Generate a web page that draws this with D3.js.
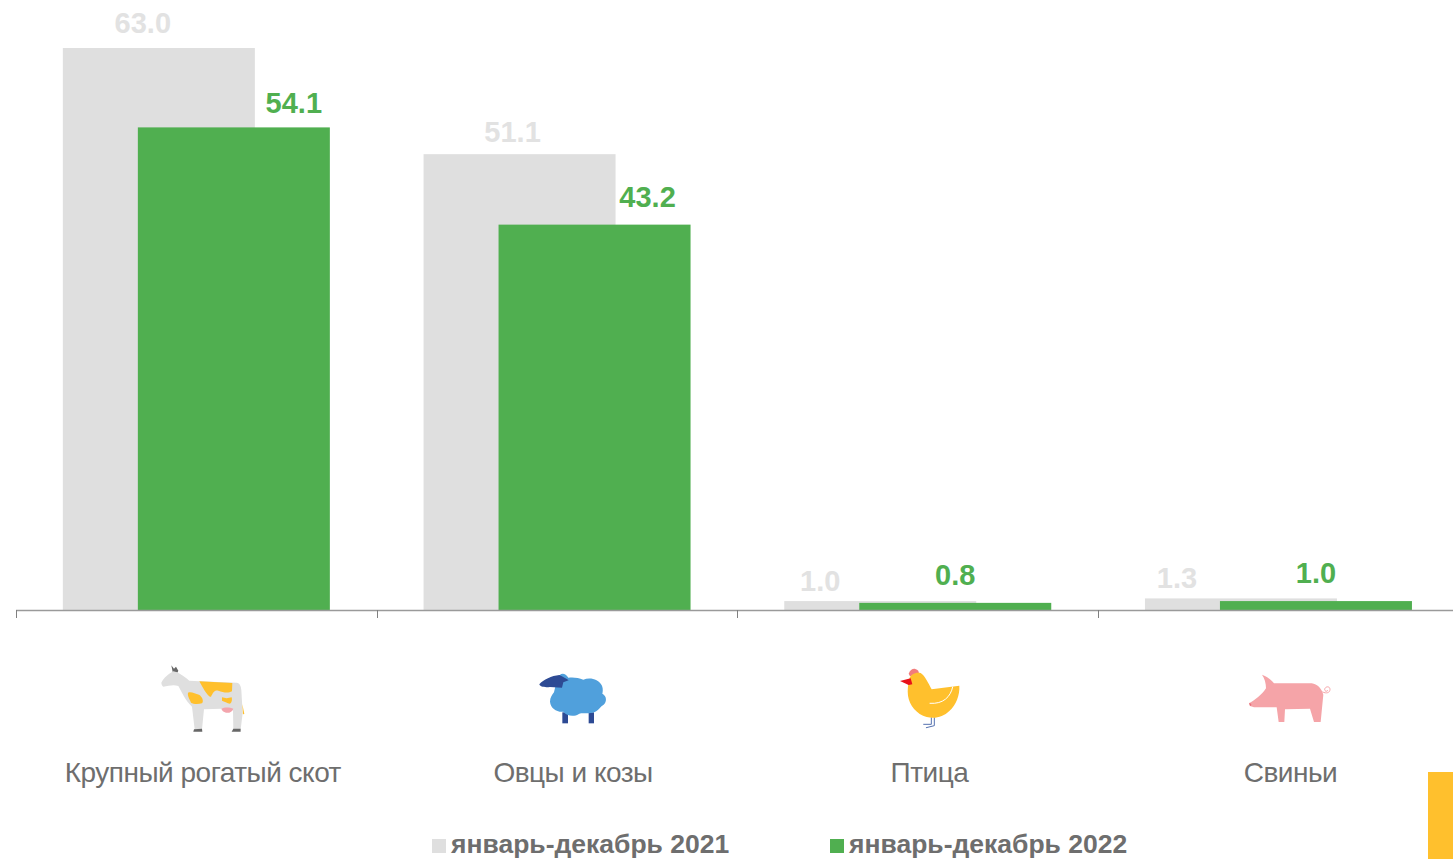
<!DOCTYPE html>
<html>
<head>
<meta charset="utf-8">
<script src="https://cdn.jsdelivr.net/npm/d3@7"></script>
<style>
    html, body { margin: 0; padding: 0; background: #fff; overflow: hidden; }
    text { font-family: "Liberation Sans", Arial, sans-serif; }
</style>
</head>
<body>
<div id="graph"></div>
<script>
'use strict';

const categories = ['Крупный рогатый скот', 'Овцы и козы', 'Птица', 'Свиньи'];
const seriesNames = ['январь-декабрь 2021', 'январь-декабрь 2022'];
const values2021 = [63.0, 51.1, 1.0, 1.3];
const values2022 = [54.1, 43.2, 0.8, 1.0];
const seriesValues = [values2021, values2022];
const seriesColors = ['#dfdfdf', '#50af50'];
const labelColors = ['#e2e2e2', '#50af50'];

const measurements = {
    width: 1453,
    height: 859,
    left: 16,
    right: 1458.8,
    baseline: 610,
    barWidth: 192,
    barShift: 37.5
};

// the value labels were placed by hand in the original: [dx from bar center, gap over bar]
const labelNudge = [
    [[-16, 15], [-7, 12], [-60, 10], [-64, 10]],
    [[60, 14], [53, 18], [0, 18], [0, 18]]
];
const categoryNudge = [6.5, 16, 11.7, 12];

const icons = [
    {
        origin: [130, 650],
        parts: [
            { fill: '#676767', d: 'M124 46L132 56L138 50L145 62L142 68L128 66Z' },
            { fill: '#dfdfdf', d: 'M94 98C100 85 118 70 130 64C145 66 160 78 178 92L208 94L320 98C330 100 333 108 334 120L338 190L332 238L310 238L309 180L275 176L222 178L216 238L194 238L186 170C165 150 155 125 145 108C130 102 115 108 100 110C96 108 94 102 94 98Z' },
            { fill: '#ffc02d', d: 'M208 94L307 99L306 124C295 130 280 128 265 122C252 120 250 128 243 140C235 142 225 125 208 94Z' },
            { fill: '#ffc02d', d: 'M174 128C185 124 195 132 207 134C217 140 222 154 216 160C205 163 190 163 183 158C180 148 172 140 174 128Z' },
            { fill: '#ffc02d', d: 'M276 142L290 145L305 142C307 148 306 158 300 161C292 160 282 154 276 152Z' },
            { fill: '#ffc02d', d: 'M337 162L343 192L339 193Z' },
            { fill: '#f3a5ad', d: 'M274 176C285 170 300 172 310 176C308 186 296 190 288 188C280 186 276 182 274 176Z' },
            { fill: '#676767', d: 'M192 238L216 236L217 245L190 245Z' },
            { fill: '#676767', d: 'M310 236L332 236L332 245L305 245Z' }
        ]
    },
    {
        origin: [520, 655],
        parts: [
            { fill: '#2d4a94', d: 'M127 172H144V205H127Z' },
            { fill: '#2d4a94', d: 'M206 172H222V205H206Z' },
            { fill: '#50a0dc', d: 'M112 70C120 52 135 52 145 68C160 66 175 68 190 74C210 66 235 72 246 92C250 102 248 112 247 116C260 122 262 140 250 150C240 155 238 165 222 172C205 178 190 172 178 176C160 188 140 182 130 170C110 172 92 160 90 140C90 128 96 120 102 112Z' },
            { fill: '#2d4a94', d: 'M58 88C70 74 95 62 118 60C128 64 140 72 146 76L130 82L126 98L90 96C75 98 60 96 58 88Z' }
        ]
    },
    {
        origin: [880, 655],
        parts: [
            { fill: 'none', stroke: '#5470b0', width: 3, d: 'M154 188L154 208L131 208' },
            { fill: 'none', stroke: '#5470b0', width: 3, d: 'M163 188L163 212L139 218' },
            { fill: '#f27c7c', d: 'M86 56C90 46 98 40 106 42C114 44 118 50 116 56L90 64Z' },
            { fill: '#ffc02d', d: 'M88 72C90 58 108 50 122 54C135 62 145 85 155 103L238 92C240 120 228 150 208 168C190 186 165 192 140 186C110 178 88 150 84 122C82 105 84 88 88 72Z' },
            { fill: '#e8111a', d: 'M60 78L92 70L97 88L86 90Z' },
            { fill: 'none', stroke: '#ffffff', width: 3, d: 'M218 96C212 125 190 148 150 145' }
        ]
    },
    {
        origin: [1230, 660],
        parts: [
            { fill: 'none', stroke: '#f5a4a8', width: 3, d: 'M278 96C290 102 300 98 300 88C300 78 286 78 284 88C284 94 290 96 293 92' },
            { fill: '#f5a4a8', d: 'M96 44C112 50 124 60 132 70L245 70C262 72 275 85 280 104L272 186L252 186L240 146L165 148L163 186L146 186L140 142L72 142L60 138L57 130C75 120 95 105 108 85C108 70 104 55 96 44Z' },
            { fill: '#e8707c', d: 'M58 128L64 132L63 138L59 136Z' }
        ]
    }
];

const svg = d3.select('#graph')
    .append('svg')
    .attr('width', measurements.width)
    .attr('height', measurements.height);

const xScale = d3.scaleBand()
    .domain(categories)
    .range([measurements.left, measurements.right]);

const yScale = d3.scaleLinear()
    .domain([0, 63])
    .range([measurements.baseline, 48]);

// offset of each series' bar inside a category
const seriesScale = d3.scalePoint()
    .domain([0, 1])
    .range([-measurements.barShift, measurements.barShift]);

function barCenter(cat, s) {
    return xScale(cat) + xScale.bandwidth() / 2 + seriesScale(s);
}

// bars and value labels, 2021 goes underneath
seriesValues.forEach((vals, s) => {
    svg.append('g').selectAll('rect')
        .data(vals)
        .enter()
        .append('rect')
        .attr('x', (d, i) => barCenter(categories[i], s) - measurements.barWidth / 2)
        .attr('y', (d) => yScale(d))
        .attr('width', measurements.barWidth)
        .attr('height', (d) => yScale(0) - yScale(d))
        .attr('fill', seriesColors[s]);
});

seriesValues.forEach((vals, s) => {
    svg.append('g').selectAll('text')
        .data(vals)
        .enter()
        .append('text')
        .attr('x', (d, i) => barCenter(categories[i], s) + labelNudge[s][i][0])
        .attr('y', (d, i) => yScale(d) - labelNudge[s][i][1])
        .attr('text-anchor', 'middle')
        .attr('font-size', 29)
        .attr('font-weight', 'bold')
        .attr('fill', labelColors[s])
        .text((d) => d.toFixed(1));
});

// axis, ticks sit between the categories
const axis = svg.append('g');
axis.append('line')
    .attr('x1', measurements.left)
    .attr('x2', measurements.width)
    .attr('y1', measurements.baseline + 0.5)
    .attr('y2', measurements.baseline + 0.5)
    .attr('stroke', '#9a9a9a')
    .attr('stroke-width', 1.5);
axis.selectAll('.tick')
    .data(categories)
    .enter()
    .append('line')
    .attr('class', 'tick')
    .attr('x1', (d) => Math.round(xScale(d)) + 0.5)
    .attr('x2', (d) => Math.round(xScale(d)) + 0.5)
    .attr('y1', measurements.baseline)
    .attr('y2', measurements.baseline + 8)
    .attr('stroke', '#808080')
    .attr('stroke-width', 1);

// icons
const iconGroups = svg.append('g').selectAll('g')
    .data(icons)
    .enter()
    .append('g')
    .attr('transform', (d) => 'translate(' + d.origin[0] + ',' + d.origin[1] + ') scale(0.3333)');
iconGroups.selectAll('path')
    .data((d) => d.parts)
    .enter()
    .append('path')
    .attr('d', (d) => d.d)
    .attr('fill', (d) => d.fill)
    .attr('stroke', (d) => d.stroke || 'none')
    .attr('stroke-width', (d) => d.width || 0)
    .attr('stroke-linecap', 'round');

// category names
svg.append('g').selectAll('text')
    .data(categories)
    .enter()
    .append('text')
    .attr('x', (d, i) => xScale(d) + xScale.bandwidth() / 2 + categoryNudge[i])
    .attr('y', 782)
    .attr('text-anchor', 'middle')
    .attr('font-size', 28)
    .attr('letter-spacing', -0.5)
    .attr('fill', '#6e6e6e')
    .text((d) => d);

// legend
const legendX = [432, 830];
const legend = svg.append('g').selectAll('g')
    .data(seriesNames)
    .enter()
    .append('g');
legend.append('rect')
    .attr('x', (d, i) => legendX[i])
    .attr('y', 839)
    .attr('width', 14)
    .attr('height', 14)
    .attr('fill', (d, i) => seriesColors[i]);
legend.append('text')
    .attr('x', (d, i) => legendX[i] + 19)
    .attr('y', 853.3)
    .attr('font-size', 26.5)
    .attr('font-weight', 'bold')
    .attr('fill', '#6e6e6e')
    .text((d) => d);

// yellow block in the corner
svg.append('rect')
    .attr('x', 1428)
    .attr('y', 772)
    .attr('width', 25)
    .attr('height', 87)
    .attr('fill', '#ffc02d');
</script>
</body>
</html>
